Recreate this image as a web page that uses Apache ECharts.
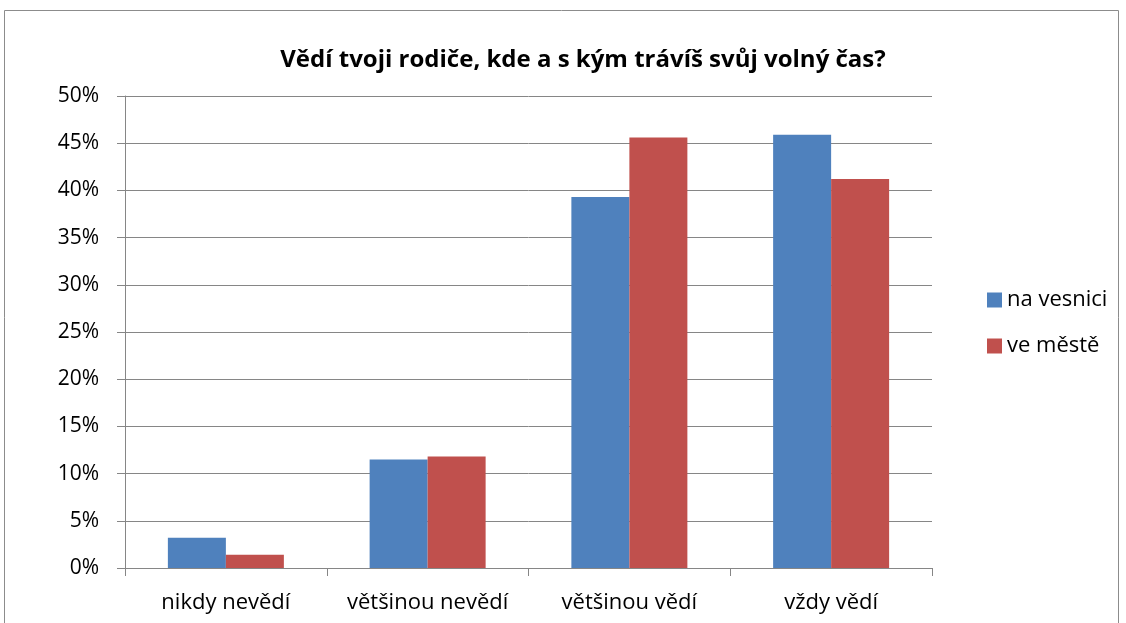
<!DOCTYPE html>
<html>
<head>
<meta charset="utf-8">
<script src="https://cdn.jsdelivr.net/npm/echarts@6/dist/echarts.min.js"></script>
<style>
  html, body { margin: 0; padding: 0; background: #fff; }
  #chart { width: 1126px; height: 623px; }
</style>
</head>
<body>
<div id="chart"></div>
<script>
var categories = ["nikdy nevědí", "většinou nevědí", "většinou vědí", "vždy vědí"];
var naVesnici = [3.2, 11.5, 39.3, 45.9];
var veMeste = [1.4, 11.8, 45.6, 41.2];
var seriesNames = ["na vesnici", "ve městě"];

var font = "'Open Sans', 'Noto Sans', sans-serif";
var chart = echarts.init(document.getElementById("chart"));

var option = {
  animation: false,
  backgroundColor: "#fff",
  textStyle: { fontFamily: font },
  title: {
    text: "Vědí tvoji rodiče, kde a s kým trávíš svůj volný čas?",
    left: 578,
    textAlign: "center",
    top: 43,
    textStyle: { fontFamily: font, fontSize: 24, fontWeight: "bold", color: "#000" }
  },
  legend: {
    orient: "vertical",
    left: 982,
    top: 284,
    itemWidth: 15,
    itemHeight: 15,
    itemGap: 24,
    icon: "rect",
    textStyle: { fontFamily: font, fontSize: 22, color: "#000" },
    data: seriesNames
  },
  grid: { left: 125, right: 194, top: 96, bottom: 55 },
  xAxis: {
    type: "category",
    data: categories,
    axisLine: { lineStyle: { color: "#868686" } },
    axisTick: { show: true, interval: 0, length: 8, alignWithLabel: false, lineStyle: { color: "#868686" } },
    axisLabel: { interval: 0, fontFamily: font, fontSize: 22, color: "#000", margin: 24 }
  },
  yAxis: {
    type: "value",
    min: 0,
    max: 50,
    interval: 5,
    axisLine: { show: true, lineStyle: { color: "#868686" } },
    axisTick: { show: true, length: 8, lineStyle: { color: "#868686" } },
    splitLine: { lineStyle: { color: "#868686", width: 1 } },
    axisLabel: { fontFamily: font, fontSize: 21, color: "#000", margin: 26, formatter: "{value}%" }
  },
  series: [
    {
      name: seriesNames[0],
      type: "bar",
      data: naVesnici,
      barGap: "0%",
      barCategoryGap: "42.5%",
      itemStyle: { color: "#4f81bd" }
    },
    {
      name: seriesNames[1],
      type: "bar",
      data: veMeste,
      barGap: "0%",
      barCategoryGap: "42.5%",
      itemStyle: { color: "#c0504d" }
    }
  ],
  graphic: [
    {
      type: "rect",
      shape: { x: 4.5, y: 10.5, width: 1114, height: 640 },
      style: { fill: "none", stroke: "#8c8c8c", lineWidth: 1 },
      silent: true
    }
  ]
};

chart.setOption(option);
</script>
</body>
</html>
